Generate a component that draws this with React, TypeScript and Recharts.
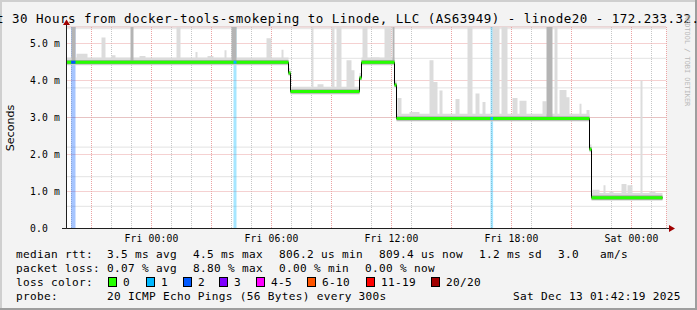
import React from "react";
import { ComposedChart, Area, Line, XAxis, YAxis, CartesianGrid } from "recharts";

// ---- time is in hours relative to Fri 00:00 ----
const timeTicks = [0, 6, 12, 18, 24];
const timeLabels = ["Fri 00:00", "Fri 06:00", "Fri 12:00", "Fri 18:00", "Sat 00:00"];
const valueTicks = [0, 1, 2, 3, 4, 5];
const valueLabels = ["0.0", "1.0 m", "2.0 m", "3.0 m", "4.0 m", "5.0 m"];

// median rtt (ms), piecewise levels
const medianStart = [-4.25, 6.85, 6.95, 10.4, 10.5, 12.15, 12.25, 21.9, 22.0];
const medianEnd = [6.85, 6.95, 10.4, 10.5, 12.15, 12.25, 21.9, 22.0, 25.55];
const medianValue = [4.49, 4.2, 3.7, 4.07, 4.49, 3.88, 2.97, 2.14, 0.83];

// light smoke spikes (ms)
const smokeStart = [-3.75, -2.5, -2.0, -0.6, 1.25, 2.2, 2.8, 3.65, 5.75, 6.5,
  8.0, 8.3, 9.0, 9.25, 9.75, 10.0,
  10.55, 11.0, 11.65,
  12.3, 12.9, 13.9, 14.1, 14.4, 15.2, 15.8, 16.2, 16.55, 17.05, 17.5, 18.05, 18.4, 19.55, 20.15, 20.4, 20.75, 21.4, 21.75,
  22.05, 22.6, 22.9, 23.5, 23.8, 24.45, 24.9];
const smokeEnd = [-3.2, -2.3, -1.8, -0.3, 1.45, 2.3, 3.1, 3.75, 6.0, 6.6,
  8.1, 8.6, 9.15, 9.5, 10.0, 10.15,
  10.8, 11.4, 12.0,
  12.5, 13.4, 14.1, 14.3, 14.55, 15.4, 16.05, 16.4, 16.7, 17.4, 17.8, 18.3, 18.75, 19.75, 20.3, 20.75, 20.9, 21.5, 21.9,
  22.4, 22.7, 23.1, 23.75, 24.05, 24.55, 25.2];
const smokeTop = [4.72, 5.16, 4.68, 4.66, 6, 4.77, 4.66, 4.82, 5.14, 4.83,
  6, 3.9, 6, 6, 4.55, 4.28,
  6, 4.62, 6,
  3.53, 3.15, 4.55, 3.96, 3.73, 3.5, 6, 3.65, 3.42, 6, 6, 3.53, 3.45, 3.44, 6, 3.74, 3.55, 3.37, 3.2,
  1.05, 1.17, 1.0, 1.2, 1.17, 4.0, 1.0];

// denser smoke spikes
const denseStart = [-4.0, -1.05, 4.0, 12.05, 19.75];
const denseEnd = [-3.8, -0.9, 4.25, 12.15, 20.05];
const denseTop = [6, 6, 6, 6, 6];

// packet loss events
const lossStart = [-4.02, 4.1, 16.95];
const lossEnd = [-3.8, 4.25, 17.08];
const lossLevel = [2, 1, 1];

const lossLabels = ["0", "1", "2", "3", "4-5", "6-10", "11-19", "20/20"];
const lossColors = ["#26ff00", "#00b8ff", "#0059ff", "#7e00ff", "#ff00ff", "#ff5500", "#ff0000", "#a10000"];

const rttStats = ["3.5 ms avg", "4.5 ms max", "806.2 us min", "809.4 us now", "1.2 ms sd", "3.0", "am/s"];
const lossStats = ["0.07 % avg", "8.80 % max", "0.00 % min", "0.00 % now"];
const probeText = "20 ICMP Echo Pings (56 Bytes) every 300s";
const stampText = "Sat Dec 13 01:42:19 2025";
const titleText = "Last 30 Hours from docker-tools-smokeping to Linode, LLC (AS63949) - linode20 - 172.233.32.";

const Y_MAX = 5.446;
const X_DOMAIN: [number, number] = [-4.25, 25.75];

const hourTicks = Array.from({ length: 30 }, (_, i) => i - 4);
const majorHourTicks = hourTicks.filter((h) => h % 3 === 0);
const minorValueTicks = Array.from({ length: 27 }, (_, i) => Math.round((i + 1) * 2) / 10);
const majorValueTicks = [1, 2, 3, 4, 5];

function medianAt(t: number) {
  for (let i = 0; i < medianStart.length; i++) {
    if (t >= medianStart[i] && t < medianEnd[i]) return medianValue[i];
  }
  return medianValue[medianValue.length - 1];
}

function bandData(lo: number, hi: number) {
  const pts = medianStart.map((s, i) => ({ t: s, r: [medianValue[i] - lo, medianValue[i] + hi] }));
  const k = medianValue.length - 1;
  pts.push({ t: medianEnd[k], r: [medianValue[k] - lo, medianValue[k] + hi] });
  return pts;
}

function spikeData(starts: number[], ends: number[], tops: number[]) {
  const idx = starts.map((_, i) => i).sort((a, b) => starts[a] - starts[b]);
  const pts: { t: number; r: number[] }[] = [];
  idx.forEach((i) => {
    const base = medianAt(starts[i]);
    pts.push({ t: starts[i], r: [base, Math.min(tops[i], Y_MAX)] });
    pts.push({ t: ends[i], r: [base, base] });
  });
  return pts;
}

const stepLineData = (() => {
  const pts = medianStart.map((s, i) => ({ t: s, v: medianValue[i] }));
  const k = medianValue.length - 1;
  pts.push({ t: medianEnd[k], v: medianValue[k] });
  return pts;
})();

const medianSegData = (() => {
  const pts: { t: number; v: number | null }[] = [];
  medianStart.forEach((s, i) => {
    pts.push({ t: s, v: medianValue[i] });
    pts.push({ t: medianEnd[i], v: medianValue[i] });
    pts.push({ t: medianEnd[i], v: null });
  });
  return pts;
})();

const MONO = "DejaVu Sans Mono";

const XTick = (p: any) => {
  const i = timeTicks.indexOf(p.payload.value);
  return (
    <text x={p.x} y={241.5} textAnchor="middle" fontFamily={MONO} fontSize={9.72} letterSpacing={0.15} fill="#000">
      {timeLabels[i]}
    </text>
  );
};

const YTick = (p: any) => {
  const i = valueTicks.indexOf(p.payload.value);
  return (
    <text x={30} y={p.y + 3.5} textAnchor="start" fontFamily={MONO} fontSize={9.72} letterSpacing={0.15} fill="#000">
      {valueLabels[i]}
    </text>
  );
};

export default function App() {
  const rttX = [107, 193, 279, 379, 479, 558, 600];
  const lossX = [107, 193, 279, 365];
  const boxX = [108, 146, 183, 219, 256, 307, 366, 431];
  const legendFont = { fontFamily: MONO, fontSize: 11.1, letterSpacing: 0.31, fill: "#000" } as const;
  return (
    <div style={{ position: "absolute", left: 0, top: 0, width: 697, height: 310, background: "#f3f3f3", overflow: "hidden" }}>
      <div style={{ position: "absolute", left: 0, top: 0 }}>
        <ComposedChart width={697} height={310} margin={{ top: 27, right: 30.5, bottom: 0, left: 0 }}>
          <XAxis xAxisId="gx" type="number" dataKey="t" domain={X_DOMAIN} ticks={hourTicks} hide allowDataOverflow />
          <XAxis xAxisId="gX" type="number" dataKey="t" domain={X_DOMAIN} ticks={majorHourTicks} hide allowDataOverflow />
          <YAxis yAxisId="gy" type="number" domain={[0, Y_MAX]} ticks={minorValueTicks} hide allowDataOverflow />
          <YAxis yAxisId="gY" type="number" domain={[0, Y_MAX]} ticks={majorValueTicks} hide allowDataOverflow />
          <CartesianGrid xAxisId="gx" yAxisId="gy" fill="#ffffff" fillOpacity={1} stroke="#c6c6c6" strokeDasharray="1 1" />
          <CartesianGrid xAxisId="gX" yAxisId="gY" stroke="#eba3a3" strokeDasharray="1 1" />
          <XAxis
            type="number"
            dataKey="t"
            domain={X_DOMAIN}
            allowDataOverflow
            ticks={timeTicks}
            height={81.5}
            tick={<XTick />}
            tickLine={false}
            axisLine={{ stroke: "#1f1f1f" }}
          />
          <YAxis
            type="number"
            domain={[0, Y_MAX]}
            allowDataOverflow
            ticks={valueTicks}
            width={66.5}
            tick={<YTick />}
            tickLine={false}
            axisLine={{ stroke: "#1f1f1f" }}
          />
          {lossStart.map((s, i) => (
            <Area
              key={"loss" + i}
              data={[{ t: s, r: [0, Y_MAX] }, { t: lossEnd[i], r: [0, Y_MAX] }]}
              dataKey="r"
              type="linear"
              stroke="none"
              fill={lossColors[lossLevel[i]]}
              fillOpacity={0.35}
              isAnimationActive={false}
            />
          ))}
          <Area data={bandData(0.08, 0.13)} dataKey="r" type="stepAfter" stroke="none" fill="#dcdcdc" fillOpacity={1} isAnimationActive={false} />
          <Area data={spikeData(smokeStart, smokeEnd, smokeTop)} dataKey="r" type="stepAfter" stroke="none" fill="#dcdcdc" fillOpacity={1} isAnimationActive={false} />
          <Area data={spikeData(denseStart, denseEnd, denseTop)} dataKey="r" type="stepAfter" stroke="none" fill="#b4b4b4" fillOpacity={1} isAnimationActive={false} />
          <Area data={bandData(0.05, 0.06)} dataKey="r" type="stepAfter" stroke="none" fill="#9a9a9a" fillOpacity={1} isAnimationActive={false} />
          <Line data={stepLineData} dataKey="v" type="stepAfter" stroke="#000" strokeWidth={1} dot={false} activeDot={false} isAnimationActive={false} />
          <Line data={medianSegData} dataKey="v" type="linear" stroke={lossColors[0]} strokeWidth={3} dot={false} activeDot={false} isAnimationActive={false} />
          {lossStart.map((s, i) => (
            <Line
              key={"lm" + i}
              data={[{ t: s, v: medianAt(s) }, { t: lossEnd[i], v: medianAt(s) }]}
              dataKey="v"
              type="linear"
              stroke={lossColors[lossLevel[i]]}
              strokeWidth={3}
              dot={false}
              activeDot={false}
              isAnimationActive={false}
            />
          ))}
        </ComposedChart>
      </div>
      <svg width={697} height={310} style={{ position: "absolute", left: 0, top: 0, pointerEvents: "none" }}>
        {/* frame */}
        <rect x={0} y={0} width={697} height={2} fill="#cfcfcf" />
        <rect x={0} y={0} width={2} height={310} fill="#cfcfcf" />
        <rect x={0} y={308} width={697} height={2} fill="#9e9e9e" />
        <rect x={695} y={0} width={2} height={310} fill="#9e9e9e" />
        {/* axis extensions and arrows */}
        <line x1={666.5} y1={228.5} x2={671} y2={228.5} stroke="#1f1f1f" />
        <line x1={62} y1={228.5} x2={66.5} y2={228.5} stroke="#1f1f1f" />
        <line x1={66.5} y1={27} x2={66.5} y2={23} stroke="#1f1f1f" />
        <polygon points="669,225 675,228.5 669,232" fill="#a00000" />
        <polygon points="63,25 66.5,19.5 70,25" fill="#a00000" />
        {/* title */}
        <text x={-28} y={23} fontFamily={MONO} fontSize={12.5} letterSpacing={0.47} fill="#000">{titleText}</text>
        {/* watermark */}
        <text x={685} y={15} transform="rotate(90 685 15)" fontFamily={MONO} fontSize={6.9} fill="#b8b8b8">RRDTOOL / TOBI OETIKER</text>
        {/* unit */}
        <text x={14} y={128} transform="rotate(-90 14 128)" textAnchor="middle" fontFamily="DejaVu Sans" fontSize={11.1} fill="#000">Seconds</text>
        {/* legend */}
        <text x={16} y={258} {...legendFont}>median rtt:</text>
        {rttStats.map((s, i) => (
          <text key={"r" + i} x={rttX[i]} y={258} {...legendFont}>{s}</text>
        ))}
        <text x={16} y={272} {...legendFont}>packet loss:</text>
        {lossStats.map((s, i) => (
          <text key={"l" + i} x={lossX[i]} y={272} {...legendFont}>{s}</text>
        ))}
        <text x={16} y={286} {...legendFont}>loss color:</text>
        {lossLabels.map((s, i) => (
          <g key={"b" + i}>
            <rect x={boxX[i] + 0.5} y={277.5} width={8} height={9} fill={lossColors[i]} stroke="#000" strokeWidth={1} />
            <text x={boxX[i] + 15} y={286} {...legendFont}>{s}</text>
          </g>
        ))}
        <text x={16} y={300} {...legendFont}>probe:</text>
        <text x={107} y={300} {...legendFont}>{probeText}</text>
        <text x={513} y={300} {...legendFont}>{stampText}</text>
      </svg>
    </div>
  );
}
